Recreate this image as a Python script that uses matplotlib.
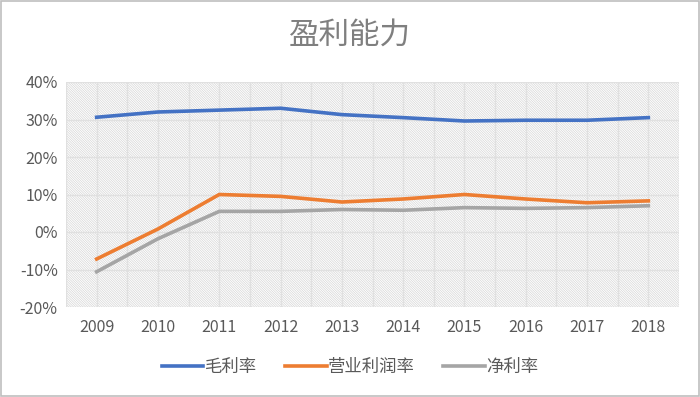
import numpy as np
import matplotlib.pyplot as plt
from matplotlib.patches import Rectangle

plt.rcParams['font.family'] = ['Noto Sans CJK SC', 'DejaVu Sans']
plt.rcParams['hatch.linewidth'] = 0.5

years = ['2009', '2010', '2011', '2012', '2013', '2014', '2015', '2016', '2017', '2018']
gross_margin = [30.6, 32.0, 32.5, 33.0, 31.3, 30.5, 29.6, 29.8, 29.8, 30.5]
op_margin = [-7.2, 0.8, 10.0, 9.5, 8.0, 8.8, 10.0, 8.8, 7.8, 8.3]
net_margin = [-10.6, -1.8, 5.5, 5.5, 6.0, 5.8, 6.5, 6.3, 6.5, 7.0]

fig = plt.figure(figsize=(7, 3.97), dpi=100)
ax = fig.add_axes([66/700, 1 - 307/397, 613/700, 225/397])

# hatched plot background
ax.add_patch(Rectangle((0, 0), 1, 1, transform=ax.transAxes, facecolor='white',
                       hatch='\\' * 14, edgecolor='#d6d6d6', linewidth=0, zorder=0))

x = np.arange(len(years))
ax.plot(x, gross_margin, color='#4472c4', lw=2.6, label='毛利率', zorder=3)
ax.plot(x, op_margin, color='#ed7d31', lw=2.6, label='营业利润率', zorder=3)
ax.plot(x, net_margin, color='#a5a5a5', lw=2.6, label='净利率', zorder=3)

ax.set_xlim(-0.5, len(years) - 0.5)
ax.set_ylim(-20, 40)
ax.set_yticks(np.arange(-20, 41, 10))
ax.set_yticklabels([f'{v}%' for v in range(-20, 41, 10)])
ax.set_xticks(x)
ax.set_xticklabels(years)
ax.set_xticks(np.arange(-0.5, len(years), 1.0), minor=True)
ax.grid(True, which='both', axis='x', color='#e0e0e0', lw=1.0, zorder=1)
ax.grid(True, which='major', axis='y', color='#e0e0e0', lw=1.0, zorder=1)
ax.set_axisbelow(True)
ax.tick_params(axis='both', which='both', length=0, labelsize=11.5, colors='#595959')
ax.tick_params(axis='x', pad=9)
ax.tick_params(axis='y', pad=6)
for s in ax.spines.values():
    s.set_visible(False)

fig.text(0.5, 1 - 35/397, '盈利能力', ha='center', va='center', fontsize=22, color='#7f7f7f')

fig.legend(loc='center', bbox_to_anchor=(0.5, 1 - 367/397), ncol=3, frameon=False,
           fontsize=12.5, labelcolor='#595959', handlelength=2.4, columnspacing=1.6,
           handletextpad=0.1)

# outer border
fig.patches.append(Rectangle((0.002, 0.002), 0.996, 0.996, transform=fig.transFigure,
                             fill=False, edgecolor='#bfbfbf', lw=1.2))

fig.savefig('out.png', dpi=100)
